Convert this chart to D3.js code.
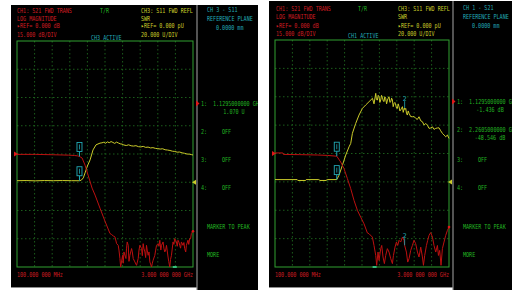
<!DOCTYPE html>
<html>
<head>
<meta charset="utf-8">
<script src="https://cdn.jsdelivr.net/npm/d3@7"></script>
<style>
  body { margin: 0; background: #fff; }
  svg { display: block; }
  text { font-family: "DejaVu Sans Mono", monospace; font-size: 6.9px; }
</style>
</head>
<body>
<div id="chart"></div>
<script>
/* * * * * * * * * * * * * *
*   two network analyzer    *
*   screens, side by side    *
* * * * * * * * * * * * * */

// sweep: 100 MHz .. 3 GHz
const sweepMHz = [100, 3000];

// S21 (dB) and S11 SWR (U) traces, [MHz, value]
const leftS21 = [[100,-0.2],[400,-0.2],[700,-0.4],[950,-0.6],[1050,-0.8],[1100,-1.0],[1130,-1.3],[1172,-2.1],[1221,-5.9],
  [1271,-11.2],[1337,-18.1],[1386,-21.8],[1468,-28.8],[1550,-35.7],[1632,-42.2],[1660,-42.8],[1686,-43.5],[1714,-44.0],
  [1742,-47.6],[1768,-48.5],[1780,-51],[1796,-55.5],[1808,-60],[1840,-53.8],[1850,-58],[1862,-52.0],[1895,-55.5],[1905,-50],
  [1916,-46.7],[1933,-48.5],[1945,-57],[1960,-53.8],[1988,-50.2],[2000,-52],[2015,-55.5],[2042,-57.3],[2070,-59.1],[2097,-55.5],
  [2110,-51],[2124,-48.5],[2152,-50.2],[2165,-54],[2179,-47.6],[2190,-50],[2207,-52.0],[2220,-55],[2234,-48.5],[2245,-51],
  [2261,-53.8],[2275,-52],[2289,-57.3],[2317,-60],[2330,-58],[2343,-56.4],[2371,-53.8],[2385,-51],[2399,-48.5],[2425,-47.6],
  [2440,-49],[2453,-45.8],[2470,-51],[2481,-48.5],[2507,-46.7],[2520,-50],[2535,-52.0],[2550,-51],[2563,-48.5],[2589,-54.7],
  [2600,-57],[2617,-60],[2630,-56],[2645,-53.8],[2671,-46.7],[2685,-48],[2699,-44.9],[2727,-46.7],[2740,-49],[2753,-45.8],
  [2770,-47],[2781,-48.5],[2795,-50],[2809,-46.7],[2835,-48.5],[2850,-47],[2863,-50.2],[2880,-52],[2891,-48.5],[2917,-45.8],
  [2930,-48],[2945,-44.9],[2960,-45],[2973,-42.2],[3000,-41.0]];

const leftSwr = [[100,1.1],[250,1.2],[400,1.0],[550,1.2],[700,1.1],[850,1.2],[1000,1.1],[1129.5,1.07],[1160,1.5],[1193,3.1],
  [1221,6.6],[1260,11.5],[1304,15.8],[1353,22.9],[1402,26.5],[1468,27.7],[1500,27.9],[1530,28.3],[1560,27.6],[1590,28.6],
  [1620,28.0],[1650,28.8],[1680,28.2],[1710,27.5],[1740,28.4],[1770,27.8],[1800,27.2],[1830,27.0],[1860,26.4],[1900,26.0],
  [1940,26.5],[1980,25.8],[2020,25.6],[2060,25.9],[2100,25.2],[2140,25.0],[2180,25.4],[2220,24.7],[2260,24.9],[2300,24.3],
  [2340,24.5],[2380,24.0],[2420,23.8],[2460,23.5],[2500,23.7],[2540,23.0],[2580,22.8],[2620,22.5],[2660,22.0],[2700,21.8],
  [2740,21.3],[2780,21.4],[2820,20.8],[2860,20.5],[2900,20.0],[2940,19.9],[2980,19.5],[3000,19.3]];

const rightS21 = [[100,0.3],[230,0.3],[240,-0.5],[512,-0.6],[812,-0.8],[973,-1.0],[1129.5,-1.436],[1195,-4.5],[1250,-8.0],
  [1307,-13.3],[1362,-18.6],[1417,-24.8],[1474,-30.1],[1529,-33.7],[1584,-37.2],[1640,-42.0],[1667,-42.4],[1723,-44.2],
  [1750,-48.6],[1779,-53.9],[1795,-59.1],[1817,-52.1],[1834,-56.5],[1862,-50.3],[1879,-48.6],[1900,-54.7],[1923,-58.2],
  [1945,-53.9],[1973,-50.3],[2000,-52.1],[2029,-55.6],[2057,-58.2],[2074,-53.9],[2100,-49.5],[2124,-46.8],[2145,-48.6],
  [2167,-45.9],[2195,-46.8],[2224,-44.2],[2250,-45.9],[2260.5,-48.546],[2290,-52.1],[2312,-57.4],[2334,-55.6],[2362,-51.2],
  [2390,-48.6],[2417,-45.9],[2445,-47.7],[2474,-52.1],[2500,-54.7],[2529,-49.5],[2557,-54.7],[2574,-59.1],[2595,-53.9],
  [2624,-48.6],[2645,-45.9],[2667,-43.3],[2695,-41.8],[2724,-44.2],[2750,-48.6],[2779,-52.1],[2807,-48.6],[2824,-53.9],
  [2845,-51.2],[2867,-59.1],[2890,-50.3],[2917,-46.8],[2945,-43.3],[2974,-40.6],[3000,-38.9]];

const rightSwr = [[100,1.6],[470,1.6],[480,1.0],[610,1.0],[620,1.6],[830,1.6],[850,1.0],[950,1.0],[970,1.6],[1129.5,1.6],
  [1167,4.7],[1224,11.8],[1279,18.9],[1334,24.7],[1362,27.1],[1390,34.2],[1445,41.2],[1500,47.1],[1557,51.8],[1612,54.2],
  [1667,56.5],[1724,58.9],[1750,55],[1779,62.4],[1790,58],[1807,57.7],[1820,61],[1834,60],[1848,56],[1862,57.7],[1876,61],
  [1890,59.6],[1905,57],[1917,56.5],[1930,60],[1945,58.9],[1960,55],[1974,57.7],[1988,59],[2000,60.0],[2015,56],[2029,56.5],
  [2043,59],[2057,57.7],[2070,53],[2084,55.4],[2098,56],[2112,54.2],[2126,52],[2140,51.8],[2153,55],[2167,53],[2181,50],
  [2195,50.6],[2210,52],[2224,53],[2237,49],[2255,52],[2265,51],[2279,51.8],[2293,48],[2307,47.1],[2320,50],[2334,48.3],
  [2362,46],[2390,45.9],[2418,46],[2445,44.8],[2472,44],[2500,45.9],[2530,43],[2557,42.4],[2585,40],[2612,41.2],[2640,40],
  [2667,37.7],[2695,38],[2724,38.8],[2750,37],[2779,37.7],[2806,38],[2834,38.1],[2862,36],[2890,34.2],[2918,33],[2945,31.8],
  [2974,33.0],[3000,30.6]];

// markers: number, MHz, S21 dB, SWR U
const leftMarkers = [[1, 1129.5, -1.3, 1.07]];
const rightMarkers = [[1, 1129.5, -1.436, 1.6], [2, 2260.5, -48.546, 52]];

// stimulus tick on the bottom edge (MHz)
const stimMarkMHz = [2700, 1760];

// scale settings
const s21Scale = [-60, 60];   // 15 dB/div, ref 0 dB at centre
const swrScale = [-60, 100];  // 20 U/div, ref 0 U on 5th line

// text of both screens
const leftHead = ["CH1: S21 FWD TRANS", "LOG MAGNITUDE", "\u25B8REF= 0.000 dB", "15.000 dB/DIV"];
const rightHead = leftHead;
const ch3Head = ["CH3: S11 FWD REFL", "SWR", "\u25B8REF= 0.000 pU", "20.000 U/DIV"];
const leftSide = ["CH 3 - S11", "REFERENCE PLANE", "0.0000 mm"];
const rightSide = ["CH 1 - S21", "REFERENCE PLANE", "0.0000 mm"];
const leftReadout = [["1:", "1.1295000000 GHz", "1.070 U"], ["2:", "OFF", ""], ["3:", "OFF", ""], ["4:", "OFF", ""]];
const rightReadout = [["1:", "1.1295000000 GHz", "-1.436 dB"], ["2:", "2.2605000000 GHz", "-48.546 dB"], ["3:", "OFF", ""], ["4:", "OFF", ""]];
const softKeys = ["MARKER TO PEAK", "MORE"];
const freqLabels = ["100.000 000 MHz", "3.000 000 000 GHz"];

const RED = "#d01c22", RED_TR = "#bc1010", YEL = "#cccc2a", GRN = "#22b422", CYAN = "#22aab6", GRAY = "#8c8c8c";
const CW = 3.05;

let svg = d3.select("#chart").append("svg")
    .attr("width", 512)
    .attr("height", 290);

function label(g, x, y, str, color, anchor) {
    if (!str) return;
    g.append("text")
        .attr("x", x).attr("y", y)
        .attr("fill", color)
        .attr("text-anchor", anchor || "start")
        .attr("textLength", str.length * CW)
        .attr("lengthAdjust", "spacingAndGlyphs")
        .text(str);
}

function drawScreen(cfg) {
    let p = cfg.plot;
    let g = svg.append("g");

    // screen background, divider
    g.append("rect").attr("x", cfg.bx).attr("y", cfg.by).attr("width", cfg.bw).attr("height", 287 - cfg.by).attr("fill", "#000");
    g.append("rect").attr("x", cfg.divX).attr("y", 286).attr("width", cfg.bx + cfg.bw - cfg.divX).attr("height", 4).attr("fill", "#000");
    g.append("line").attr("x1", cfg.divX).attr("x2", cfg.divX).attr("y1", cfg.by).attr("y2", 290).attr("stroke", GRAY).attr("stroke-width", 1.2);
    g.append("line").attr("x1", cfg.bx).attr("x2", cfg.divX).attr("y1", 287.5).attr("y2", 287.5).attr("stroke", GRAY).attr("stroke-width", 1);

    // scales
    let x = d3.scaleLinear().domain(sweepMHz).range([p.l, p.r]);
    let yDb = d3.scaleLinear().domain(s21Scale).range([p.b, p.t]).clamp(true);
    let ySwr = d3.scaleLinear().domain(swrScale).range([p.b, p.t]).clamp(true);

    // grid
    let gx = d3.range(0, 11).map(i => sweepMHz[0] + i * (sweepMHz[1] - sweepMHz[0]) / 10);
    let gy = d3.range(s21Scale[0], s21Scale[1] + 1, 15);
    g.selectAll(null).data(gx.slice(1, -1)).join("line")
        .attr("x1", d => x(d)).attr("x2", d => x(d)).attr("y1", p.t).attr("y2", p.b)
        .attr("stroke", "#1e661e").attr("stroke-width", 0.9).attr("stroke-dasharray", "1.5,2.5");
    g.selectAll(null).data(gy.slice(1, -1)).join("line")
        .attr("x1", p.l).attr("x2", p.r).attr("y1", d => yDb(d)).attr("y2", d => yDb(d))
        .attr("stroke", "#1e661e").attr("stroke-width", 0.9).attr("stroke-dasharray", "1.5,2.5");
    g.append("rect").attr("x", p.l).attr("y", p.t).attr("width", p.r - p.l).attr("height", p.b - p.t)
        .attr("fill", "none").attr("stroke", "#30a030").attr("stroke-width", 1);

    // traces
    let lineDb = d3.line().x(d => x(d[0])).y(d => yDb(d[1]));
    let lineSwr = d3.line().x(d => x(d[0])).y(d => ySwr(d[1]));
    g.append("path").attr("d", lineSwr(cfg.swr)).attr("fill", "none").attr("stroke", YEL).attr("stroke-width", 1);
    g.append("path").attr("d", lineDb(cfg.s21)).attr("fill", "none").attr("stroke", RED_TR).attr("stroke-width", 1);
    let endPt = cfg.s21[cfg.s21.length - 1];
    g.append("circle").attr("cx", x(endPt[0])).attr("cy", yDb(endPt[1])).attr("r", 1.3).attr("fill", "#e01818");

    // reference arrows
    let r0 = yDb(0), s0 = ySwr(0);
    g.append("path").attr("d", `M${p.l - 3},${r0 - 2.5}L${p.l + 1},${r0}L${p.l - 3},${r0 + 2.5}Z`).attr("fill", "#e01818");
    g.append("path").attr("d", `M${p.r + 3},${s0 - 2.5}L${p.r - 1},${s0}L${p.r + 3},${s0 + 2.5}Z`).attr("fill", YEL);

    // markers
    cfg.markers.forEach(m => {
        let mx = x(m[1]);
        [yDb(m[2]), ySwr(m[3])].forEach(ty => {
            if (m[0] === 1) {
                g.append("line").attr("x1", mx).attr("x2", mx).attr("y1", ty - 5).attr("y2", ty).attr("stroke", CYAN);
                g.append("rect").attr("x", mx - 2.5).attr("y", ty - 14).attr("width", 5).attr("height", 9)
                    .attr("fill", "none").attr("stroke", CYAN).attr("stroke-width", 0.9);
                g.append("line").attr("x1", mx).attr("x2", mx).attr("y1", ty - 12).attr("y2", ty - 7).attr("stroke", CYAN).attr("stroke-width", 0.8);
            } else {
                g.append("line").attr("x1", mx).attr("x2", mx).attr("y1", ty - 7).attr("y2", ty).attr("stroke", CYAN).attr("stroke-width", 0.8);
                g.append("text").attr("x", mx).attr("y", ty - 7.5).attr("fill", CYAN).attr("text-anchor", "middle")
                    .style("font-size", "6.5px").text(String(m[0]));
            }
        });
    });

    // stimulus tick
    let sx = x(cfg.stim);
    g.append("line").attr("x1", sx - 2).attr("x2", sx + 2).attr("y1", p.b).attr("y2", p.b).attr("stroke", "#40e0a0").attr("stroke-width", 1.5);

    // header text
    cfg.head.forEach((t, i) => label(g, cfg.headX, cfg.headY[i], t, RED));
    cfg.ch3.forEach((t, i) => label(g, cfg.ch3X, cfg.headY[i], t, YEL));
    label(g, cfg.trX, cfg.headY[0], "T/R", GRN);
    label(g, cfg.actX, cfg.actY, cfg.active, CYAN);

    // bottom sweep labels
    label(g, p.l, 277, freqLabels[0], RED);
    label(g, p.r, 277, freqLabels[1], RED, "end");

    // side panel
    let side = g.append("g").attr("clip-path", `url(#${cfg.clipId})`);
    svg.append("clipPath").attr("id", cfg.clipId).append("rect")
        .attr("x", cfg.divX).attr("y", 0).attr("width", cfg.bx + cfg.bw - cfg.divX).attr("height", 290);
    label(side, cfg.sideX, cfg.sideY[0], cfg.side[0], CYAN);
    label(side, cfg.sideX, cfg.sideY[1], cfg.side[1], CYAN);
    label(side, cfg.sideX + 9, cfg.sideY[2], cfg.side[2], CYAN);

    let rowY = [cfg.rowY0, cfg.rowY0 + 28, 161.7, 190];
    cfg.readout.forEach((r, i) => {
        label(side, cfg.numX, rowY[i], r[0], GRN);
        label(side, r[1] === "OFF" ? cfg.numX + 21 : cfg.numX + 12, rowY[i], r[1], GRN);
        label(side, cfg.numX + 33, rowY[i] + 8.3, r[2], GRN, "middle");
    });
    g.append("path").attr("d", `M${cfg.divX - 1},${rowY[0] - 5.5}L${cfg.divX + 2.5},${rowY[0] - 2.5}L${cfg.divX - 1},${rowY[0] + 0.5}Z`).attr("fill", "#e01818");
    label(side, cfg.sideX, 229, softKeys[0], GRN);
    label(side, cfg.sideX, 257, softKeys[1], GRN);
}

drawScreen({
    bx: 11, by: 5, bw: 247, divX: 197, clipId: "clipL",
    plot: {l: 17, r: 193, t: 41, b: 267},
    s21: leftS21, swr: leftSwr, markers: leftMarkers, stim: stimMarkMHz[0],
    head: leftHead, ch3: ch3Head, headX: 17, ch3X: 141, trX: 100, headY: [12.7, 20.7, 28.3, 36.7],
    active: "CH3 ACTIVE", actX: 91, actY: 39.5,
    side: leftSide, sideX: 207, sideY: [11.5, 20.7, 30],
    readout: leftReadout, numX: 201, rowY0: 106
});

drawScreen({
    bx: 269, by: 1, bw: 243, divX: 453, clipId: "clipR",
    plot: {l: 275, r: 449, t: 40, b: 267},
    s21: rightS21, swr: rightSwr, markers: rightMarkers, stim: stimMarkMHz[1],
    head: rightHead, ch3: ch3Head, headX: 276, ch3X: 398, trX: 358, headY: [10.5, 18.8, 27.5, 35.7],
    active: "CH1 ACTIVE", actX: 348, actY: 37.5,
    side: rightSide, sideX: 463, sideY: [10.2, 19.2, 28],
    readout: rightReadout, numX: 457, rowY0: 104
});
</script>
</body>
</html>
